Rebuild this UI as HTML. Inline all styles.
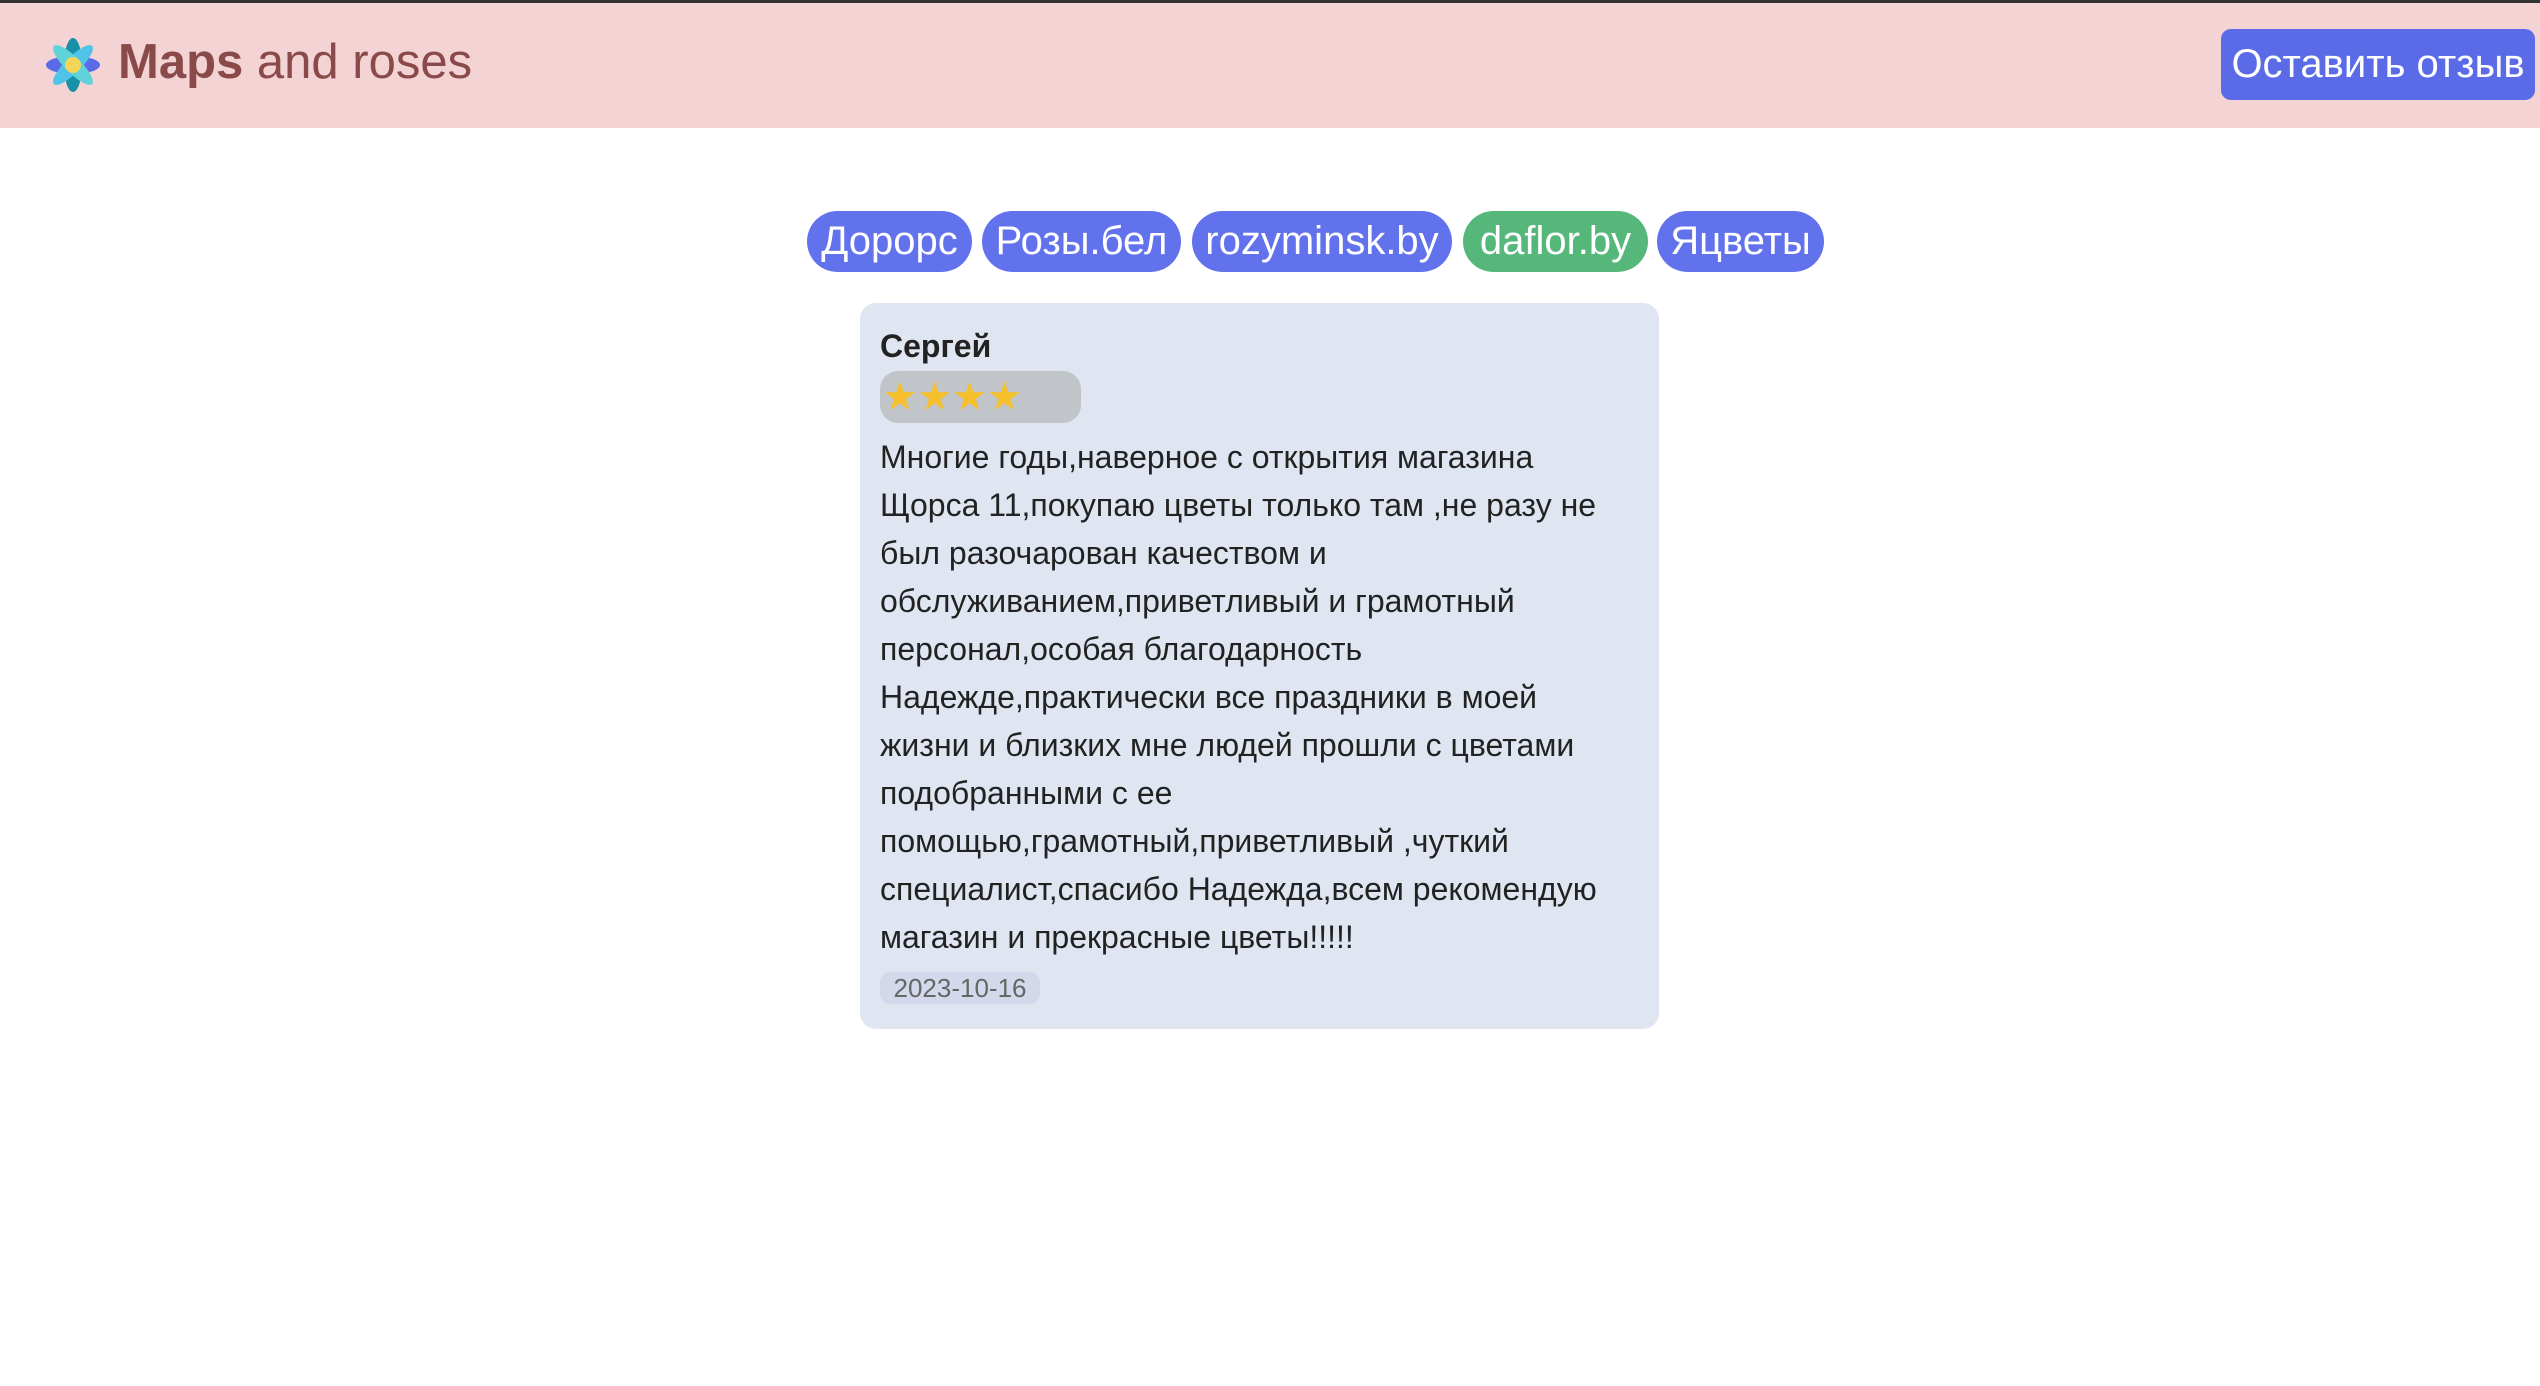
<!DOCTYPE html>
<html><head><meta charset="utf-8"><style>
body{margin:0;width:2540px;height:1386px;background:#fff;position:relative;overflow:hidden;font-family:"Liberation Sans","DejaVu Sans",sans-serif;}
.a{position:absolute;}
.hdr{left:0;top:0;width:2540px;height:128px;background:#f3d3d3;border-top:3px solid #333;box-sizing:border-box;}
.title{left:118px;top:34px;font-size:49px;color:#8a4a4a;white-space:nowrap;}
.btn{left:2221px;top:29px;width:314px;height:71px;background:#5b6be8;border-radius:10px;color:#fff;font-size:40px;line-height:71px;text-align:center;white-space:nowrap;overflow:hidden;}
.pill{top:211px;height:61px;border-radius:31px;background:#6272ec;color:#fff;font-size:40px;line-height:61px;text-align:center;white-space:nowrap;}
.card{left:860px;top:303px;width:799px;height:726px;background:#e0e6f1;border-radius:16px;}
.name{left:880px;top:328px;font-size:32px;font-weight:bold;color:#222;}
.stars{left:880px;top:371px;width:201px;height:52px;background:#c1c5c9;border-radius:18px;font-size:40px;line-height:52px;color:#f5c02b;letter-spacing:-1px;padding-left:2px;box-sizing:border-box;}
.txt{left:880px;top:433px;font-size:32px;line-height:48px;color:#222;white-space:nowrap;}
.date{left:880px;top:972px;width:160px;height:32px;background:#d3d8ea;border-radius:10px;font-size:26px;line-height:32px;color:#666;text-align:center;}
</style></head><body>
<div class="a hdr"></div>
<svg class="a" style="left:44px;top:36px" width="58" height="58" viewBox="0 0 58 58">
<ellipse cx="29" cy="29" rx="9" ry="27" fill="#1a8fa8"/>
<ellipse cx="29" cy="29" rx="27" ry="9" fill="#5b6be8"/>
<ellipse cx="29" cy="29" rx="8" ry="27" fill="#4fc3e8" transform="rotate(45 29 29)"/>
<ellipse cx="29" cy="29" rx="8" ry="27" fill="#5fd3d8" transform="rotate(-45 29 29)"/>
<circle cx="29" cy="29" r="8" fill="#f5d65a"/>
</svg>
<div class="a title"><b>Maps</b> and roses</div>
<div class="a btn">Оставить отзыв</div>
<div class="a pill" style="left:807px;width:165px">Дорорс</div>
<div class="a pill" style="left:982px;width:199px">Розы.бел</div>
<div class="a pill" style="left:1192px;width:260px">rozyminsk.by</div>
<div class="a pill" style="left:1463px;width:185px;background:#55b87a">daflor.by</div>
<div class="a pill" style="left:1657px;width:167px">Яцветы</div>
<div class="a card"></div>
<div class="a name">Сергей</div>
<div class="a stars">★★★★</div>
<div class="a txt">Многие годы,наверное с открытия магазина<br>Щорса 11,покупаю цветы только там ,не разу не<br>был разочарован качеством и<br>обслуживанием,приветливый и грамотный<br>персонал,особая благодарность<br>Надежде,практически все праздники в моей<br>жизни и близких мне людей прошли с цветами<br>подобранными с ее<br>помощью,грамотный,приветливый ,чуткий<br>специалист,спасибо Надежда,всем рекомендую<br>магазин и прекрасные цветы!!!!!</div>
<div class="a date">2023-10-16</div>
</body></html>
